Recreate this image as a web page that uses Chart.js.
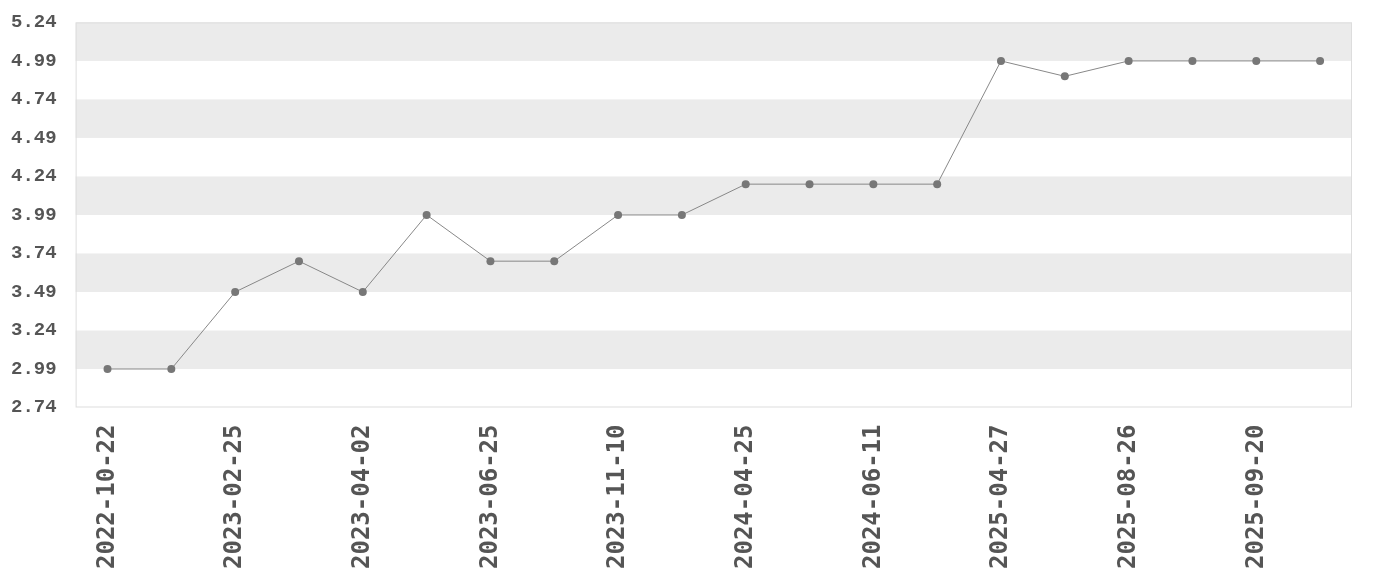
<!DOCTYPE html>
<html>
<head>
<meta charset="utf-8">
<title>Chart</title>
<script src="https://cdn.jsdelivr.net/npm/chart.js@4.4.1/dist/chart.umd.min.js"></script>
<style>
    body { margin: 0; background: #fff; }
    #wrap { width: 1380px; height: 580px; position: relative; }
</style>
</head>
<body>
<div id="wrap"><canvas id="chart"></canvas></div>
<script>
// dates on the x axis (only every other one is labelled)
const dates = [
    '2022-10-22', '2022-12-10', '2023-02-25', '2023-03-15', '2023-04-02',
    '2023-05-10', '2023-06-25', '2023-09-01', '2023-11-10', '2024-01-20',
    '2024-04-25', '2024-05-20', '2024-06-11', '2024-10-15', '2025-04-27',
    '2025-06-30', '2025-08-26', '2025-09-05', '2025-09-20', '2025-10-15'
];
// values
const values = [
    2.99, 2.99, 3.49, 3.69, 3.49,
    3.99, 3.69, 3.69, 3.99, 3.99,
    4.19, 4.19, 4.19, 4.19, 4.99,
    4.89, 4.99, 4.99, 4.99, 4.99
];
const yMin = 2.74;
const yMax = 5.24;
const yStep = 0.25;

// grey bands between every other pair of ticks + light frame
const bands = {
    id: 'bands',
    beforeDraw(chart) {
        const { ctx, chartArea: a, scales: { y } } = chart;
        ctx.save();
        ctx.fillStyle = '#ebebeb';
        const ticks = y.ticks;
        for (let i = 1; i < ticks.length - 1; i += 2) {
            const top = y.getPixelForValue(ticks[i + 1].value);
            const bot = y.getPixelForValue(ticks[i].value);
            ctx.fillRect(a.left, top, a.right - a.left, bot - top);
        }
        ctx.strokeStyle = '#dddddd';
        ctx.lineWidth = 1;
        ctx.strokeRect(a.left + 0.5, a.top + 0.5, a.right - a.left - 1, a.bottom - a.top - 1);
        ctx.restore();
    }
};

new Chart(document.getElementById('chart'), {
    type: 'line',
    data: {
        labels: dates,
        datasets: [{
            data: values,
            borderColor: '#888888',
            borderWidth: 1,
            pointBackgroundColor: '#777777',
            pointBorderWidth: 0,
            pointRadius: 4,
            tension: 0,
            fill: false
        }]
    },
    options: {
        responsive: true,
        maintainAspectRatio: false,
        animation: false,
        layout: { padding: { top: 11, right: 28, left: 0, bottom: 2 } },
        plugins: { legend: { display: false }, tooltip: { enabled: false } },
        scales: {
            x: {
                offset: true,
                grid: { display: false },
                border: { display: false },
                ticks: {
                    autoSkip: false,
                    maxRotation: 90,
                    minRotation: 90,
                    padding: 9,
                    color: '#555555',
                    font: { family: "'DejaVu Sans Mono', monospace", weight: 'bold', size: 24 },
                    callback: function (v, i) { return i % 2 ? '' : this.getLabelForValue(v); }
                }
            },
            y: {
                min: yMin,
                max: yMax,
                grid: { display: false },
                border: { display: false },
                ticks: {
                    stepSize: yStep,
                    padding: 11,
                    color: '#555555',
                    font: { family: "'Liberation Mono', monospace", weight: 'bold', size: 19 },
                    callback: v => v.toFixed(2)
                }
            }
        }
    },
    plugins: [bands]
});
</script>
</body>
</html>
